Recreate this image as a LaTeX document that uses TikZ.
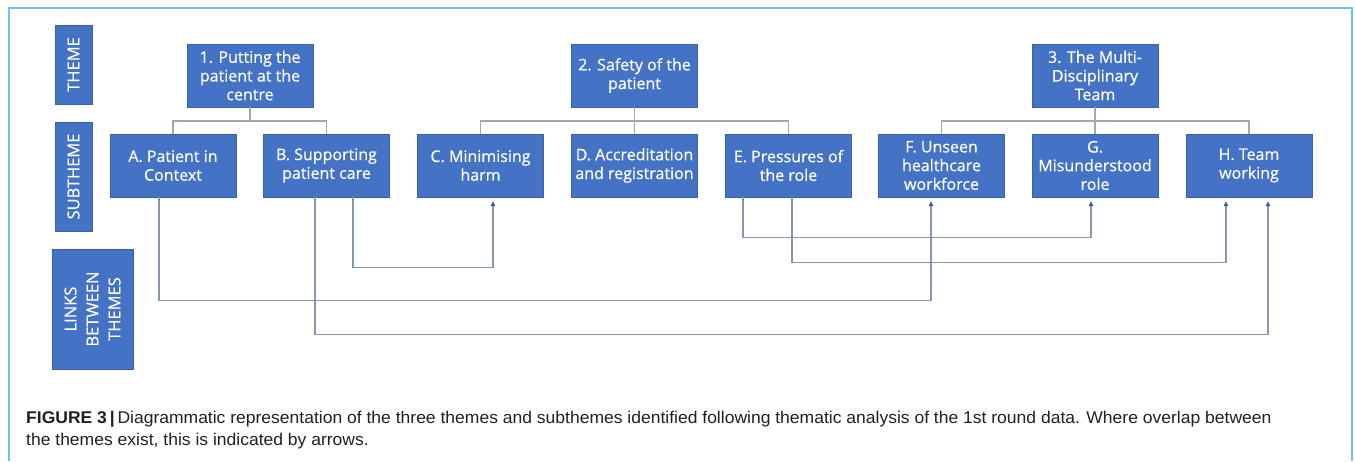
\documentclass[tikz,border=0pt]{standalone}
\usepackage{fontspec}
\setmainfont{Open Sans}
\newfontfamily\boxfont{Open Sans}[FakeBold=0.5]
\newfontfamily\capfont{Liberation Sans}[FakeStretch=1.03]
\usetikzlibrary{arrows.meta}
\definecolor{boxblue}{HTML}{4472C4}
\definecolor{framecol}{HTML}{6CC3EE}
\definecolor{treecol}{HTML}{A3A8B0}
\definecolor{linkcol}{HTML}{8496B4}
\definecolor{tipcol}{HTML}{3B5A9A}
\definecolor{captext}{HTML}{231F20}
\begin{document}
\begin{tikzpicture}[x=1pt,y=-1pt,
  box/.style={fill=boxblue,draw=boxblue!85!black,line width=0.4pt,text=white,
    minimum width=126pt,minimum height=63pt,inner sep=0pt,align=center,
    font=\boxfont\fontsize{16}{18.7}\selectfont},
  lab/.style={fill=boxblue,draw=boxblue!85!black,line width=0.4pt,text=white,
    inner sep=0pt,align=center,rotate=90,
    font=\boxfont\fontsize{16.5}{22}\selectfont},
  tree/.style={draw=treecol,line width=1.5pt},
  link/.style={draw=linkcol,line width=1.1pt},
  arr/.style={link,-{Triangle[length=5pt,width=4.5pt,color=tipcol]}},
  captionline/.style={anchor=base west,inner sep=0pt,text=captext,
    font=\capfont\fontsize{17}{22}\selectfont}]
\useasboundingbox (0,0) rectangle (1355,461);
% outer frame
\draw[framecol,line width=1.2pt] (9,461) -- (9,8) -- (1352,8) -- (1352,461);

% row labels
\node[lab,minimum width=79pt,minimum height=37pt] (lt) at (73.5,64.5) {THEME};
\node[lab,minimum width=109pt,minimum height=37pt] (ls) at (73.5,176.5) {SUBTHEME};
\node[lab,minimum width=120pt,minimum height=81pt] (ll) at (92.5,309) {LINKS\\BETWEEN\\THEMES};

% themes
\node[box] (t1) at (250,75.5) {1. Putting the\\patient at the\\centre};
\node[box] (t2) at (634.5,75.5) {2. Safety of the\\patient};
\node[box] (t3) at (1095,75.5) {3. The Multi-\\Disciplinary\\Team};

% subthemes
\node[box] (a) at (173,165.5) {A. Patient in\\Context};
\node[box] (b) at (326.5,165.5) {B. Supporting\\patient care};
\node[box] (c) at (480.5,165.5) {C. Minimising\\harm};
\node[box] (d) at (634.5,165.5) {D. Accreditation\\and registration};
\node[box] (e) at (788.5,165.5) {E. Pressures of\\the role};
\node[box] (f) at (941.5,165.5) {F. Unseen\\healthcare\\workforce};
\node[box] (g) at (1095,165.5) {G.\\Misunderstood\\role};
\node[box] (h) at (1249,165.5) {H. Team\\working};

% theme to subtheme trees
\draw[tree] (t1.south) -- ++(0,14);
\draw[tree] (a.north) -- ++(0,-13) -| (b.north);
\draw[tree] (t2.south) -- (d.north);
\draw[tree] (c.north) -- ++(0,-13) -| (e.north);
\draw[tree] (t3.south) -- (g.north);
\draw[tree] (f.north) -- ++(0,-13) -| (h.north);

% links between themes
\draw[arr] ([xshift=26.5pt]b.south) -- ++(0,70) -| ([xshift=12.5pt,yshift=-4pt]c.south);
\draw[arr] ([xshift=-14pt]a.south) -- ++(0,103) -| ([xshift=-10.5pt,yshift=-4pt]f.south);
\draw[arr] ([xshift=-11.5pt]b.south) -- ++(0,137) -| ([xshift=19pt,yshift=-4pt]h.south);
\draw[arr] ([xshift=-45.5pt]e.south) -- ++(0,40) -| ([xshift=-4pt,yshift=-4pt]g.south);
\draw[arr] ([xshift=3.5pt]e.south) -- ++(0,65) -| ([xshift=-23pt,yshift=-4pt]h.south);

% caption
\node[captionline] (cap1) at (26,423) {\textbf{FIGURE 3\,|}\,Diagrammatic representation of the three themes and subthemes identified following thematic analysis of the 1st round data. Where overlap between};
\node[captionline] (cap2) at (26,445) {the themes exist, this is indicated by arrows.};
\end{tikzpicture}
\end{document}
